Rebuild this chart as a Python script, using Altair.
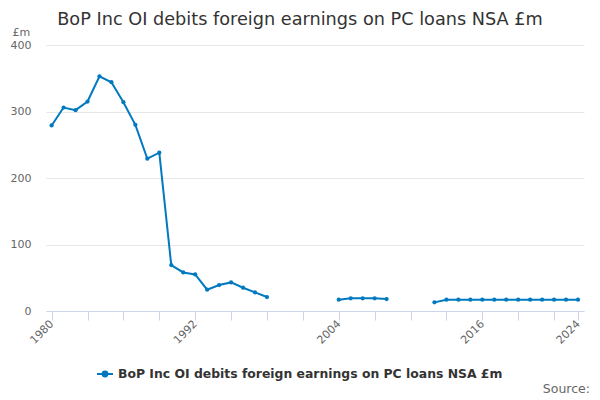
import altair as alt
import pandas as pd

series_name = "BoP Inc OI debits foreign earnings on PC loans NSA £m"
years = list(range(1980, 2025))
values = [
    279, 306, 302, 315, 353, 344, 314, 280, 229, 238,
    69, 58, 55, 32, 39, 43, 35, 28, 21,
    None, None, None, None, None,
    17, 19, 19, 19, 18,
    None, None, None,
    13, 17, 17, 17, 17, 17, 17, 17, 17, 17, 17, 17, 17,
]
tick_years = [1980, 1983, 1986, 1989, 1992, 1995, 1998, 2001, 2004, 2007,
              2010, 2013, 2016, 2019, 2022, 2024]
label_years = [1980, 1992, 2004, 2016, 2024]

# group consecutive non-null runs so the line breaks at gaps
seg, segs, prev = 0, [], None
for v in values:
    if v is not None and prev is None:
        seg += 1
    segs.append(seg)
    prev = v

df = pd.DataFrame({"year": years, "value": values, "seg": segs, "series": series_name})
df = df[df["value"].notna()]

COLOR = "#0079c1"
FONT = "DejaVu Sans"

x = alt.X("year:Q",
          scale=alt.Scale(domain=[1979.53, 2024.5], nice=False, zero=False),
          axis=alt.Axis(values=tick_years, format="d", title=None, grid=False,
                        domainColor="#ccd6eb", tickColor="#ccd6eb", tickSize=9,
                        labelAngle=-45, labelAlign="right", labelBaseline="middle",
                        labelPadding=2, labelFontSize=11, labelColor="#666666",
                        labelExpr="indexof([" + ",".join(str(y) for y in label_years) +
                                  "], datum.value) >= 0 ? datum.label : ''",
                        labelOverlap=False))
y = alt.Y("value:Q",
          scale=alt.Scale(domain=[0, 400], nice=False),
          axis=alt.Axis(values=[0, 100, 200, 300, 400], title="£m", titleAngle=0,
                        titleX=-34, titleY=-13, titleAlign="left", titleBaseline="middle",
                        titleFontSize=11, titleFontWeight="normal", titleColor="#666666",
                        domain=False, ticks=False, labelPadding=15, labelFontSize=11,
                        labelColor="#666666", gridColor="#e6e6e6"))
color = alt.Color("series:N", scale=alt.Scale(range=[COLOR]),
                  legend=alt.Legend(title=None, orient="none", legendX=50, legendY=320,
                                    symbolType="M-1,0L1,0M-0.3,0A0.3,0.3,0,1,0,0.3,0A0.3,0.3,0,1,0,-0.3,0Z",
                                    symbolSize=256, symbolStrokeWidth=2,
                                    symbolFillColor=COLOR, symbolStrokeColor=COLOR,
                                    labelFontSize=12.4, labelFontWeight="bold",
                                    labelColor="#333333", labelFont=FONT, labelLimit=600))

base = alt.Chart(df)
line = base.mark_line(strokeWidth=2).encode(x=x, y=y, color=color, detail="seg:N")
pts = base.mark_circle(size=18, opacity=1).encode(x=x, y=y, color=alt.Color("series:N", scale=alt.Scale(range=[COLOR]), legend=None))

source = alt.Chart(alt.Data(values=[{"t": "Source:"}])).mark_text(
    align="right", baseline="middle", fontSize=12.5, color="#666666", font=FONT
).encode(text="t:N", x=alt.value(544), y=alt.value(344))

chart = alt.layer(line, pts, source).properties(
    width=538, height=266,
    title=alt.TitleParams(series_name, anchor="middle", fontSize=17.7, fontWeight="normal",
                          color="#333333", font=FONT, dx=-15, offset=12, dy=15),
    autosize=alt.AutoSizeParams(type="none"),
    padding={"left": 38, "top": 37, "right": 6, "bottom": 88},
).configure(font=FONT).configure_view(stroke=None)

chart.save("out.html", embed_options={"renderer": "svg", "actions": False})
